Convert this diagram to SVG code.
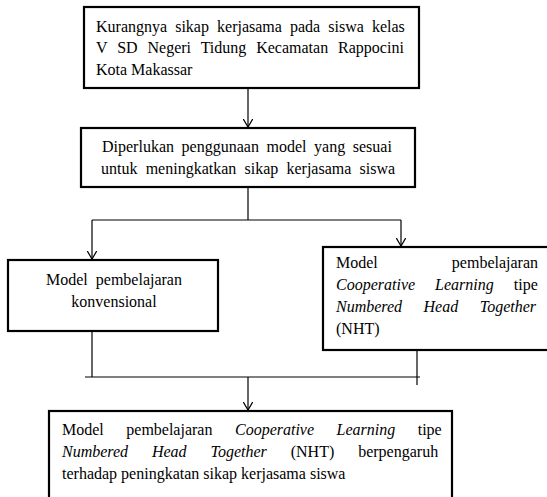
<svg xmlns="http://www.w3.org/2000/svg" width="547" height="497" viewBox="0 0 547 497">
<defs>
<marker id="arr" viewBox="0 0 10 10" refX="8.5" refY="5" markerWidth="10" markerHeight="10" markerUnits="userSpaceOnUse" orient="auto">
<path d="M0,0 L8.5,5 L0,10" fill="none" stroke="#000" stroke-width="1.2"/>
</marker>
<style>
.box{fill:#fff;stroke:#000;stroke-width:2.2}
.t{font-family:'Liberation Serif','Tinos','DejaVu Serif','Noto Serif',serif;font-size:16px;fill:#000}
.i{font-style:italic}
.c{fill:none;stroke:#000;stroke-width:1.2}
</style>
</defs>
<rect width="547" height="497" fill="#fff"/>
<g id="connectors">
<line class="c" x1="248" y1="89" x2="248" y2="127" marker-end="url(#arr)"/>
<polyline class="c" points="248,188 248,220"/>
<line class="c" x1="92" y1="220" x2="401" y2="220"/>
<line class="c" x1="92" y1="220" x2="92" y2="259" marker-end="url(#arr)"/>
<line class="c" x1="401" y1="220" x2="401" y2="246" marker-end="url(#arr)"/>
<line class="c" x1="92" y1="332" x2="92" y2="377"/>
<line class="c" x1="417" y1="351" x2="417" y2="385"/>
<line class="c" x1="85" y1="377" x2="420" y2="377"/>
<line class="c" x1="248" y1="377" x2="248" y2="410" marker-end="url(#arr)"/>
</g>
<g id="node1">
<rect class="box" x="84" y="7" width="335" height="81"/>
<text class="t" x="96" y="31.5" word-spacing="4.1">Kurangnya sikap kerjasama pada siswa kelas</text>
<text class="t" x="96" y="53" word-spacing="5.9">V SD Negeri Tidung Kecamatan Rappocini</text>
<text class="t" x="96" y="74.5">Kota Makassar</text>
</g>
<g id="node2">
<rect class="box" x="81" y="128" width="334" height="59"/>
<text class="t" x="102" y="151.5" word-spacing="3.6">Diperlukan penggunaan model yang sesuai</text>
<text class="t" x="101" y="174" word-spacing="4.2">untuk meningkatkan sikap kerjasama siswa</text>
</g>
<g id="node3">
<rect class="box" x="8" y="260" width="210" height="71"/>
<text class="t" x="114" y="285" text-anchor="middle" word-spacing="4">Model pembelajaran</text>
<text class="t" x="114" y="307" text-anchor="middle">konvensional</text>
</g>
<g id="node4">
<rect class="box" x="323" y="247" width="226" height="103"/>
<text class="t" x="336" y="268">Model</text>
<text class="t" x="538" y="268" text-anchor="end">pembelajaran</text>
<text class="t" x="336" y="290" word-spacing="16"><tspan class="i">Cooperative Learning</tspan> tipe</text>
<text class="t i" x="336" y="312" word-spacing="17.5">Numbered Head Together</text>
<text class="t" x="336" y="334">(NHT)</text>
</g>
<g id="node5">
<rect class="box" x="49" y="411" width="403" height="95"/>
<text class="t" x="62" y="435" word-spacing="18.5">Model pembelajaran <tspan class="i">Cooperative Learning</tspan> tipe</text>
<text class="t" x="62" y="457" word-spacing="19.9"><tspan class="i">Numbered Head Together</tspan> (NHT) berpengaruh</text>
<text class="t" x="62" y="479">terhadap peningkatan sikap kerjasama siswa</text>
</g>
</svg>
